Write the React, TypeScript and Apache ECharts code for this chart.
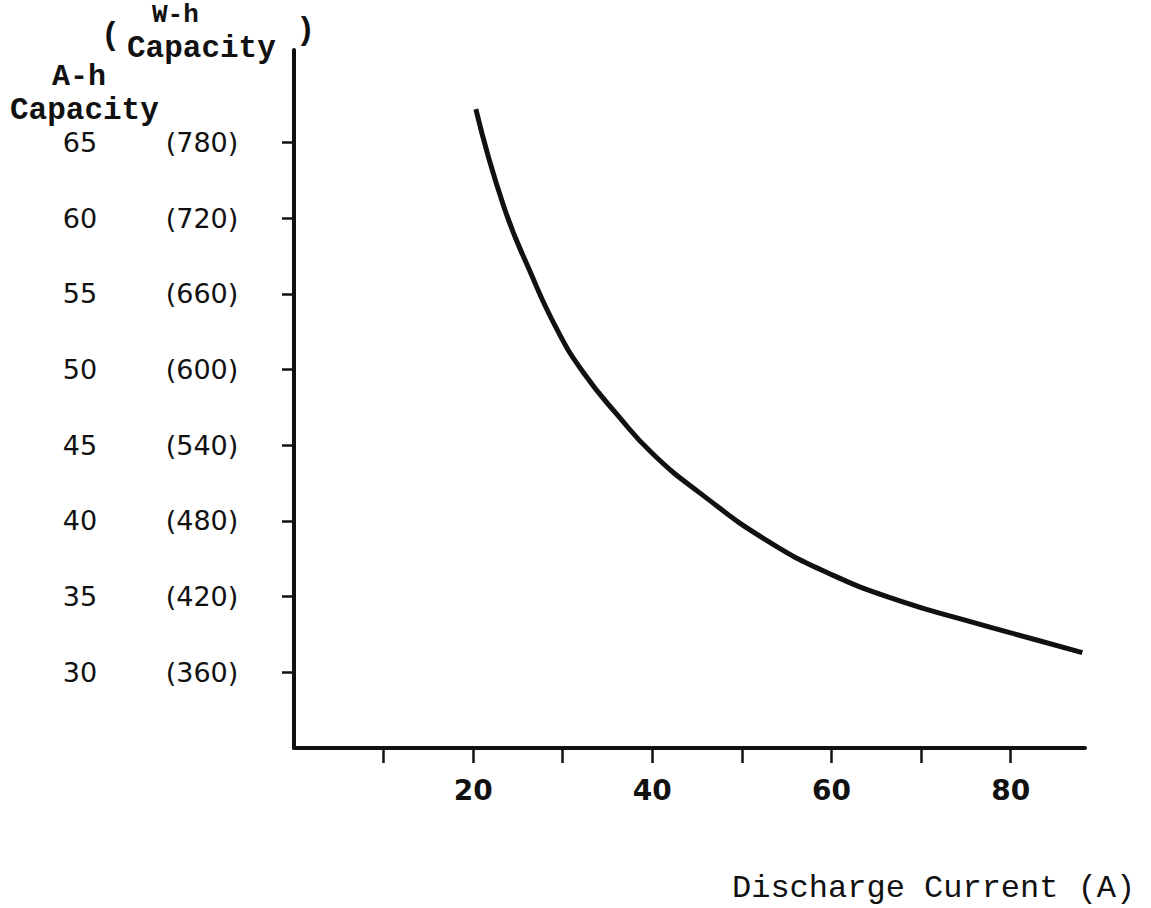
import React, { useEffect, useRef } from "react";
import * as echarts from "echarts";

// Discharge current (A)
const currentA = [20.3, 23.4, 26.4, 29.4, 32.3, 36.1, 40.1, 45.4, 52.8, 60.2, 67.7, 75.2, 82.5, 88.0];
// A-h capacity at those currents
const capacityAh = [67.2, 60.8, 56.4, 52.6, 49.8, 47.0, 44.4, 41.8, 38.7, 36.4, 34.7, 33.4, 32.2, 31.3];

// Axis ticks / labels
const xTicks = [10, 20, 30, 40, 50, 60, 70, 80];
const xLabels = [20, 40, 60, 80];
const ahTicks = [30, 35, 40, 45, 50, 55, 60, 65];
const whLabels = [360, 420, 480, 540, 600, 660, 720, 780];

const xTitle = "Discharge Current (A)";
const ahTitle = ["A-h", "Capacity"];
const whTitle = ["W-h", "Capacity"];

const INK = "#111111";
const MONO = "'Liberation Mono', 'DejaVu Sans Mono', monospace";
const SANS = "'DejaVu Sans', sans-serif";

export default function App() {
  const ref = useRef<HTMLDivElement>(null);

  useEffect(() => {
    if (!ref.current) return;
    const chart = echarts.init(ref.current, undefined, { renderer: "svg" });
    const data = currentA.map((x, i) => [x, capacityAh[i]]);

    chart.setOption({
      animation: false,
      backgroundColor: "#ffffff",
      grid: { left: 294, right: 66, top: 50, bottom: 160, containLabel: false },
      xAxis: {
        type: "value",
        min: 0,
        max: 88.3,
        interval: 10,
        splitLine: { show: false },
        axisLine: { show: true, onZero: false, lineStyle: { color: INK, width: 4 } },
        axisTick: {
          show: true,
          customValues: xTicks,
          length: 15,
          inside: false,
          lineStyle: { color: INK, width: 2.5 },
        },
        axisLabel: {
          customValues: xLabels,
          margin: 28,
          color: INK,
          fontFamily: SANS,
          fontWeight: "bold",
          fontSize: 28,
        },
      },
      yAxis: {
        type: "value",
        min: 25,
        max: 71.1,
        interval: 5,
        splitLine: { show: false },
        axisLine: { show: true, onZero: false, lineStyle: { color: INK, width: 4 } },
        axisTick: {
          show: true,
          customValues: ahTicks,
          length: 12,
          lineStyle: { color: INK, width: 2.5 },
        },
        axisLabel: {
          customValues: ahTicks,
          margin: 40,
          formatter: (v: number) => {
            const i = ahTicks.indexOf(Math.round(v));
            const wh = i >= 0 ? whLabels[i] : "";
            return `{a|${Math.round(v)}}{b|(${wh})}`;
          },
          rich: {
            a: {
              width: 140,
              align: "center",
              color: INK,
              fontFamily: SANS,
              fontSize: 27,
            },
            b: {
              width: 104,
              align: "center",
              color: INK,
              fontFamily: SANS,
              fontSize: 27,
            },
          },
        },
      },
      series: [
        {
          type: "line",
          data,
          smooth: 0.5,
          symbol: "none",
          lineStyle: { color: INK, width: 5 },
        },
      ],
      graphic: [
        {
          type: "text",
          x: 101,
          y: 35,
          style: { text: "(", font: `bold 32px ${MONO}`, fill: INK, align: "left", verticalAlign: "middle" },
        },
        {
          type: "text",
          x: 152,
          y: 15,
          style: { text: whTitle[0], font: `bold 26px ${MONO}`, fill: INK, align: "left", verticalAlign: "middle" },
        },
        {
          type: "text",
          x: 127,
          y: 48,
          style: { text: whTitle[1], font: `bold 31px ${MONO}`, fill: INK, align: "left", verticalAlign: "middle" },
        },
        {
          type: "text",
          x: 296,
          y: 30,
          style: { text: ")", font: `bold 32px ${MONO}`, fill: INK, align: "left", verticalAlign: "middle" },
        },
        {
          type: "text",
          x: 52,
          y: 77,
          style: { text: ahTitle[0], font: `bold 30px ${MONO}`, fill: INK, align: "left", verticalAlign: "middle" },
        },
        {
          type: "text",
          x: 10,
          y: 110,
          style: { text: ahTitle[1], font: `bold 31px ${MONO}`, fill: INK, align: "left", verticalAlign: "middle" },
        },
        {
          type: "text",
          x: 732,
          y: 888,
          style: { text: xTitle, font: `32px ${MONO}`, fill: INK, align: "left", verticalAlign: "middle" },
        },
      ],
    });

    return () => chart.dispose();
  }, []);

  return (
    <div
      ref={ref}
      style={{ position: "fixed", left: 0, top: 0, width: 1151, height: 908, background: "#fff" }}
    />
  );
}
